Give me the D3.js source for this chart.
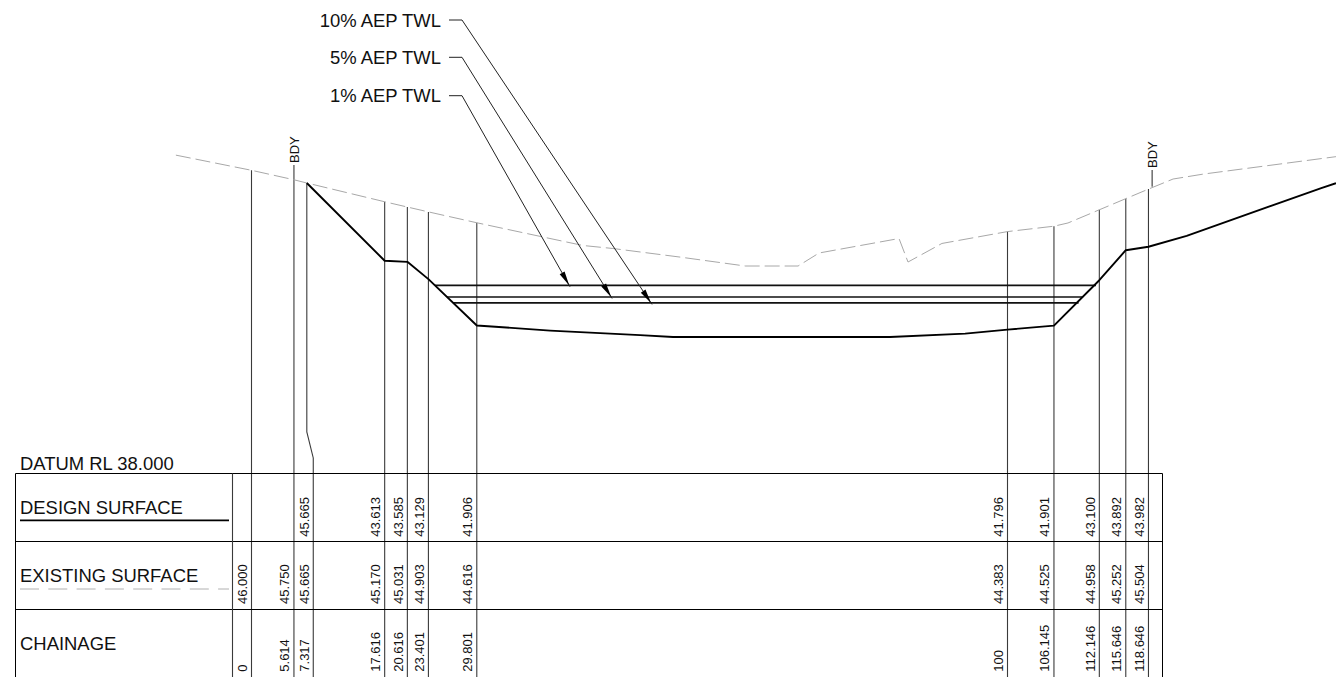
<!DOCTYPE html>
<html><head><meta charset="utf-8">
<script src="https://cdn.jsdelivr.net/npm/d3@7/dist/d3.min.js"></script>
<style>html,body{margin:0;padding:0;background:#fff;overflow:hidden}svg{display:block}text{font-family:"Liberation Sans",Arial,sans-serif;fill:#111}</style>
</head><body><svg id="c" width="1336" height="677"></svg>
<script>
// Table stations
const chainageLabels = ["0","5.614","7.317","17.616","20.616","23.401","29.801","100","106.145","112.146","115.646","118.646"];
const chainages = [0,5.614,7.317,17.616,20.616,23.401,29.801,100,106.145,112.146,115.646,118.646];
const designLabels = ["","","45.665","43.613","43.585","43.129","41.906","41.796","41.901","43.100","43.892","43.982"];
const existingLabels = ["46.000","45.750","45.665","45.170","45.031","44.903","44.616","44.383","44.525","44.958","45.252","45.504"];
const existingValues = [46,45.75,45.665,45.17,45.031,44.903,44.616,44.383,44.525,44.958,45.252,45.504];

// Existing surface profile
const existingCh = [-10,0,5.614,7.317,17.616,20.616,23.401,29.801,38.56,43.85,47.8,56.7,65.3,72.3,75.07,85.65,86.84,91.33,100,106.145,108,112.146,115.646,118.646,121.9,125.9,143.45];
const existingRL = [46.4,46,45.75,45.665,45.17,45.031,44.903,44.616,44.24,44.016,43.937,43.71,43.475,43.475,43.818,44.2,43.58,44.07,44.383,44.525,44.61,44.958,45.252,45.504,45.77,45.9,46.36];

// Design surface profile
const designCh = [7.317,17.616,20.616,23.401,29.801,39.5,51.4,55.75,84.46,94.4,100,106.145,112.146,115.646,118.646,123.7,141.5,143.45];
const designRL = [45.665,43.613,43.585,43.129,41.906,41.77,41.65,41.6,41.6,41.69,41.796,41.901,43.1,43.892,43.982,44.27,45.53,45.66];

// Tailwater levels
const twlNames = ["1% AEP TWL","5% AEP TWL","10% AEP TWL"];
const twlRL = [42.966,42.657,42.5];
const twlStart = [24.27,25.86,26.65];
const twlEnd = [111.7,110.0,109.4];
const twlTip = [42.13,47.7,52.98];

// Offset leader at chainage 7.317
const jogCh = [7.317,7.317,8.17,8.17];
const jogRL = [45.665,39.1,38.41,32.6];

// Boundary markers
const bdyCh = [5.614,119.13];
const bdyLabels = ["BDY","BDY"];

const rowTitles = ["DESIGN SURFACE","EXISTING SURFACE","CHAINAGE"];
const datumLabel = "DATUM RL 38.000";

const W=1336,H=677,FS=18.45;
const x=d3.scaleLinear().domain([0,100]).range([251.5,1007.5]);
const y=d3.scaleLinear().domain([38,45.665]).range([473.5,183]);
const svg=d3.select("#c");
const line=d3.line().x(d=>x(d[0])).y(d=>y(d[1]));
const VCOL="#3a3a3a";

// verticals
svg.append("g").selectAll("line").data(chainages.filter(c=>c!==7.317)).join("line")
  .attr("x1",d=>x(d)).attr("x2",d=>x(d))
  .attr("y1",d=>d===bdyCh[0]?165:y(existingValues[chainages.indexOf(d)]))
  .attr("y2",H).attr("stroke",VCOL).attr("stroke-width",1.1);
svg.append("path").attr("d",line(d3.zip(jogCh,jogRL))).attr("fill","none").attr("stroke",VCOL).attr("stroke-width",1.1);

// existing surface
svg.append("path").attr("d",line(d3.zip(existingCh,existingRL))).attr("fill","none")
  .attr("stroke","#a8a8a8").attr("stroke-width",1).attr("stroke-dasharray","15 5");

// TWL lines
svg.append("g").selectAll("line").data(twlRL).join("line")
  .attr("x1",(d,i)=>x(twlStart[i])).attr("x2",(d,i)=>x(twlEnd[i]))
  .attr("y1",d=>y(d)).attr("y2",d=>y(d)).attr("stroke","#111").attr("stroke-width",1.7);

// design surface
svg.append("path").attr("d",line(d3.zip(designCh,designRL))).attr("fill","none")
  .attr("stroke","#000").attr("stroke-width",1.9).attr("stroke-linejoin","round");

// TWL leaders and labels
const labelY=[95.7,57.3,20];
const baseY=[101.7,64,26.7];
twlNames.forEach((n,i)=>{
  const tx=x(twlTip[i]), ty=y(twlRL[i])+1.5, kx=462, ky=labelY[i];
  svg.append("path").attr("d",`M449,${ky}H${kx}L${tx},${ty}`).attr("fill","none").attr("stroke","#222").attr("stroke-width",1);
  const dx=tx-kx,dy=ty-ky,L=Math.hypot(dx,dy),ux=dx/L,uy=dy/L;
  const bx=tx-ux*16,by=ty-uy*16,hx=tx-ux*1.5,hy=ty-uy*1.5;
  svg.append("path").attr("d",`M${hx},${hy}L${bx-uy*2.8},${by+ux*2.8}L${bx+uy*2.8},${by-ux*2.8}Z`).attr("fill","#000");
  svg.append("text").attr("x",441).attr("y",baseY[i]).attr("text-anchor","end").attr("font-size",FS).text(n);
});

// BDY
const bdyBase=[299,1157], bdyBottom=[163,168];
bdyLabels.forEach((t,i)=>{
  svg.append("text").attr("transform",`translate(${bdyBase[i]},${bdyBottom[i]}) rotate(-90)`).attr("font-size",13).text(t);
});
svg.append("line").attr("x1",x(bdyCh[1])).attr("x2",x(bdyCh[1])).attr("y1",170).attr("y2",186.7).attr("stroke","#222").attr("stroke-width",1);

// table
const T={l:15.5,r:1162.5,top:473.5,m1:541.5,m2:609.5,split:232.5};
const g=svg.append("g").attr("stroke","#000").attr("stroke-width",1);
[T.top,T.m1,T.m2].forEach(v=>g.append("line").attr("x1",T.l).attr("x2",T.r).attr("y1",v).attr("y2",v));
[T.l,T.r].forEach(v=>g.append("line").attr("x1",v).attr("x2",v).attr("y1",T.top).attr("y2",H));
g.append("line").attr("x1",T.split).attr("x2",T.split).attr("y1",T.top).attr("y2",H).attr("stroke",VCOL).attr("stroke-width",1.1);

svg.append("text").attr("x",20).attr("y",470).attr("font-size",FS).text(datumLabel);
const titleY=[514,581.7,650];
rowTitles.forEach((t,i)=>svg.append("text").attr("x",20).attr("y",titleY[i]).attr("font-size",FS).text(t));
svg.append("line").attr("x1",20).attr("x2",229).attr("y1",520.3).attr("y2",520.3).attr("stroke","#000").attr("stroke-width",1.8);
svg.append("line").attr("x1",20).attr("x2",229).attr("y1",589).attr("y2",589).attr("stroke","#b0b0b0").attr("stroke-width",1).attr("stroke-dasharray","19 9.3");

// table values
const rows=[[designLabels,536.7],[existingLabels,604],[chainageLabels,671.7]];
rows.forEach(([labs,yy])=>{
  svg.append("g").selectAll("text").data(labs).join("text")
    .attr("transform",(d,i)=>{
      const cx=chainages[i]===7.317?x(jogCh[3]):x(chainages[i]);
      return `translate(${cx-4.6},${yy}) rotate(-90)`;
    })
    .attr("font-size",13).text(d=>d);
});
</script></body></html>
